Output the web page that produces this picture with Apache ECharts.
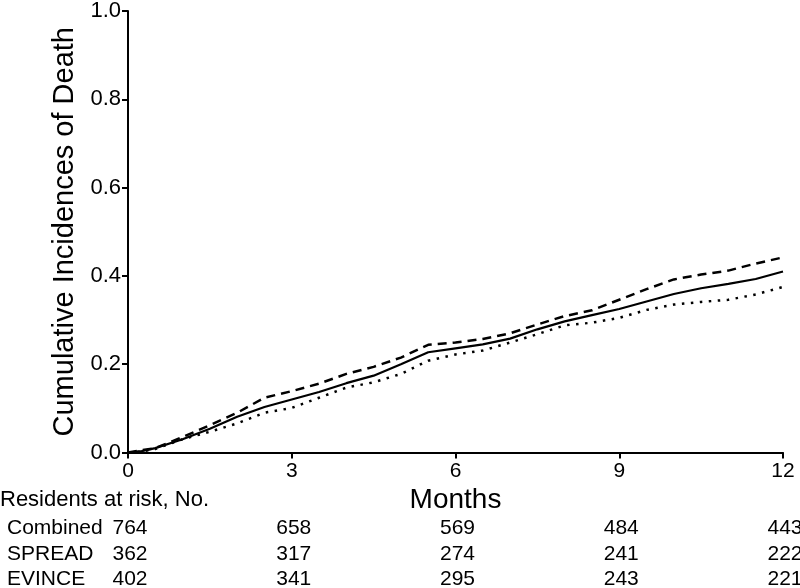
<!DOCTYPE html>
<html>
<head>
<meta charset="utf-8">
<script src="https://cdn.jsdelivr.net/npm/echarts@6/dist/echarts.min.js"></script>
<style>html,body{margin:0;padding:0;background:#fff}#c{width:800px;height:588px}</style>
</head>
<body>
<div id="c"></div>
<script>
const months = [0,0.25,0.5,1,1.5,2,2.5,3,3.5,4,4.5,5,5.5,6,6.5,7,7.5,8,8.5,9,9.5,10,10.5,11,11.5,12];
const combined = [0,0.003,0.01,0.03,0.054,0.081,0.103,0.12,0.137,0.157,0.174,0.2,0.227,0.236,0.245,0.258,0.279,0.297,0.311,0.325,0.342,0.359,0.372,0.382,0.393,0.41];
const dashedGroup = [0,0.005,0.01,0.035,0.062,0.09,0.124,0.139,0.156,0.178,0.194,0.215,0.244,0.249,0.257,0.27,0.29,0.309,0.322,0.346,0.37,0.392,0.403,0.412,0.428,0.442];
const dottedGroup = [0,0.002,0.008,0.03,0.047,0.066,0.09,0.101,0.124,0.147,0.159,0.178,0.208,0.222,0.231,0.249,0.268,0.288,0.294,0.305,0.323,0.335,0.341,0.346,0.358,0.375];
const xTicks = [0,3,6,9,12];
const riskRows = ['Combined','SPREAD','EVINCE'];
const riskCombined = [764,658,569,484,443];
const riskSpread = [362,317,274,241,222];
const riskEvince = [402,341,295,243,221];
const riskTitle = 'Residents at risk, No.';

const FONT = "'Liberation Sans', Arial, Helvetica, sans-serif";
const chart = echarts.init(document.getElementById('c'));
const pair = arr => months.map((m,i)=>[m,arr[i]]);
chart.setOption({
  animation:false,
  backgroundColor:'#fff',
  grid:{left:128,right:17,top:8,bottom:135.5,containLabel:false},
  xAxis:{type:'value',min:0,max:12,interval:3,
    name:'Months',nameLocation:'middle',nameGap:29,
    nameTextStyle:{fontFamily:FONT,fontSize:28,color:'#000'},
    axisLine:{lineStyle:{color:'#000',width:2}},
    axisTick:{show:true,length:6,lineStyle:{color:'#000',width:2}},
    axisLabel:{fontFamily:FONT,fontSize:21,color:'#000',margin:8},
    splitLine:{show:false}},
  yAxis:{type:'value',min:0,max:1,interval:0.2,
    name:'Cumulative Incidences of Death',nameLocation:'middle',nameGap:39,
    nameTextStyle:{fontFamily:FONT,fontSize:29,color:'#000'},
    axisLine:{show:true,lineStyle:{color:'#000',width:2}},
    axisTick:{show:true,length:6,lineStyle:{color:'#000',width:2}},
    axisLabel:{fontFamily:FONT,fontSize:22,color:'#000',margin:7,formatter:v=>v.toFixed(1)},
    splitLine:{show:false}},
  series:[
    {name:'Combined',type:'line',data:pair(combined),symbol:'none',lineStyle:{color:'#000',width:2.2,type:'solid'}},
    {name:'EVINCE',type:'line',data:pair(dashedGroup),symbol:'none',lineStyle:{color:'#000',width:2.5,type:[9,6]}},
    {name:'SPREAD',type:'line',data:pair(dottedGroup),symbol:'none',lineStyle:{color:'#000',width:2.5,type:[2.5,6.5],cap:'butt'}}
  ]
});

const rowsData = [riskCombined, riskSpread, riskEvince];
const rowY = [528, 554, 579];
const g = [];
g.push({type:'text',x:0,y:500,style:{text:riskTitle,font:'22px '+FONT,fill:'#000',textVerticalAlign:'middle'}});
riskRows.forEach((name,r)=>{
  g.push({type:'text',x:7,y:rowY[r],style:{text:name,font:'21px '+FONT,fill:'#000',textVerticalAlign:'middle',textAlign:'left'}});
  xTicks.forEach((t,i)=>{
    const px = chart.convertToPixel({xAxisIndex:0}, t);
    g.push({type:'text',x:px+2,y:rowY[r],style:{text:String(rowsData[r][i]),font:'21px '+FONT,fill:'#000',textAlign:'center',textVerticalAlign:'middle'}});
  });
});
chart.setOption({graphic:g});
</script>
</body>
</html>
